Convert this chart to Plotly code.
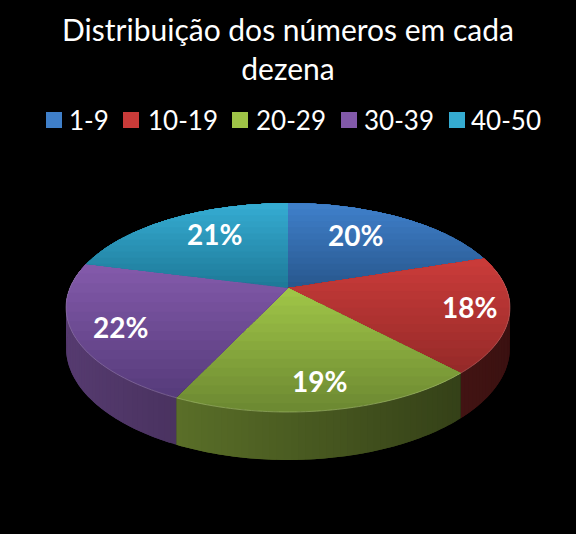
#!/usr/bin/env python3
import numpy as np
import plotly.graph_objects as go

TITLE = "Distribuição dos números em cada<br>dezena"
CATEGORIES = ["1-9", "10-19", "20-29", "30-39", "40-50"]
VALUES = [20, 18, 19, 22, 21]

# slice colours: light end, dark end of the top-face gradient
TOP_LIGHT = ["#3f7fc9", "#c93b39", "#9fc447", "#8259a9", "#35abd1"]
TOP_DARK = ["#28588f", "#962a29", "#6d8a32", "#573c7c", "#1e7a99"]
LABEL_RADIUS = [0.68, 0.8, 0.8, 0.8, 0.65]
LABEL_XSHIFT = [-12, 6, -1, 1, 6]
LABEL_YSHIFT = [3, 2, 0, -2, 7]
LEGEND_SWATCH_X = [54, 131, 240, 349, 457]
LEGEND_TEXT_X = [70, 149, 257, 365, 472]

WIDTH, HEIGHT = 576, 534
CX, CY = 288, 288
RADIUS, TILT, PERSP, DEPTH = 218, 100.8, 0.187, 39
BANDS = 14
FONT = "Lato, Carlito, Calibri, sans-serif"


def project(angle, r=1.0, drop=0.0):
    u, v = r * np.sin(angle), -r * np.cos(angle)
    s = 1 / (1 - PERSP * v)
    return CX + RADIUS * u * s, CY + (TILT * v + drop) * s


def hex_rgb(color):
    return np.array([int(color[i:i + 2], 16) for i in (1, 3, 5)], dtype=float)


def rgb(values):
    return "rgb({:.0f},{:.0f},{:.0f})".format(*values)


def add_poly(fig, x, y, color, line_width=0.6):
    fig.add_trace(
        go.Scatter(
            x=x,
            y=y,
            mode="lines",
            fill="toself",
            fillcolor=color,
            line={"color": color, "width": line_width, "simplify": False},
            hoverinfo="skip",
            showlegend=False,
        )
    )


def add_wall(fig, a0, a1, light):
    steps = max(2, int(np.degrees(a1 - a0) / 1.5))
    edges = np.linspace(a0, a1, steps + 1)
    for j in range(steps):
        start = edges[j]
        # overlap the next strip so no seam shows between them
        end = edges[min(j + 2, steps)]
        if -np.cos(start) < -0.45:
            continue
        arc = np.linspace(start, end, 4)
        xt, yt = project(arc)
        xb, yb = project(arc[::-1], drop=DEPTH)
        shade = np.interp((xt[0] - 66) / 445, [0, 1], [0.66, 0.29])
        add_poly(fig, [*xt, *xb], [*yt, *yb], rgb(hex_rgb(light) * shade), line_width=0)


def add_top(fig, a0, a1, light, dark):
    arc = np.linspace(a0, a1, 80)
    radial = np.linspace(0, 1, 150)
    xa, ya = project(arc)
    # radial edges are sampled too, so clamping y below keeps them straight
    x0, y0 = project(a0, r=radial)
    x1, y1 = project(a1, r=radial[::-1])
    x = np.r_[x0, xa, x1]
    y = np.r_[y0, ya, y1]
    levels = np.linspace(y.max(), y.min(), BANDS, endpoint=False)
    for i, level in enumerate(levels):
        mix = i / (BANDS - 1)
        color = hex_rgb(dark) * (1 - mix) + hex_rgb(light) * mix
        # y axis is reversed: keep everything above the current level
        add_poly(fig, x, np.minimum(y, level), rgb(color), line_width=0)


def add_rim(fig, a0, a1, light):
    arc = np.linspace(a0, a1, 60)
    arc = arc[np.cos(arc) < 0.2]
    if len(arc) < 2:
        return
    x, y = project(arc)
    fig.add_trace(
        go.Scatter(
            x=x,
            y=y,
            mode="lines",
            line={"color": rgb(hex_rgb(light) * 0.6 + 60), "width": 0.7, "simplify": False},
            hoverinfo="skip",
            showlegend=False,
        )
    )


fraction = np.cumsum([0] + VALUES) / sum(VALUES)
angles = 2 * np.pi * fraction

fig = go.Figure()

for i in range(len(VALUES)):
    add_wall(fig, angles[i], angles[i + 1], TOP_LIGHT[i])
for i in range(len(VALUES)):
    add_top(fig, angles[i], angles[i + 1], TOP_LIGHT[i], TOP_DARK[i])
for i in range(len(VALUES)):
    add_rim(fig, angles[i], angles[i + 1], TOP_LIGHT[i])

annotations = []
for i, value in enumerate(VALUES):
    x, y = project((angles[i] + angles[i + 1]) / 2, r=LABEL_RADIUS[i])
    annotations.append(
        {
            "x": x,
            "y": y,
            "xshift": LABEL_XSHIFT[i],
            "yshift": LABEL_YSHIFT[i],
            "text": f"<b>{value / sum(VALUES):.0%}</b>",
            "showarrow": False,
            "font": {"family": FONT, "size": 28, "color": "#ffffff"},
        }
    )

fig.add_trace(
    go.Scatter(
        x=LEGEND_SWATCH_X,
        y=[120] * len(CATEGORIES),
        mode="markers",
        marker={"symbol": "square", "size": 16, "color": TOP_LIGHT},
        hoverinfo="skip",
        showlegend=False,
    )
)
for label, x in zip(CATEGORIES, LEGEND_TEXT_X):
    annotations.append(
        {
            "x": x,
            "y": 120,
            "xanchor": "left",
            "text": label,
            "showarrow": False,
            "xshift": -3,
            "font": {"family": FONT, "size": 26, "color": "#ffffff"},
        }
    )

fig.update_layout(
    title={
        "text": TITLE,
        "x": 0.5,
        "xanchor": "center",
        "y": 0.924,
        "yanchor": "top",
        "font": {"family": FONT, "size": 30, "color": "#ffffff"},
    },
    width=WIDTH,
    height=HEIGHT,
    margin={"l": 0, "r": 0, "t": 0, "b": 0},
    paper_bgcolor="#000000",
    plot_bgcolor="#000000",
    xaxis={"range": [0, WIDTH], "visible": False, "fixedrange": True},
    yaxis={"range": [HEIGHT, 0], "visible": False, "fixedrange": True},
    annotations=annotations,
    showlegend=False,
)

fig.write_html(
    "out.html",
    config={"displayModeBar": False},
    post_script="document.body.style.margin='0';document.body.style.background='#000';",
)
